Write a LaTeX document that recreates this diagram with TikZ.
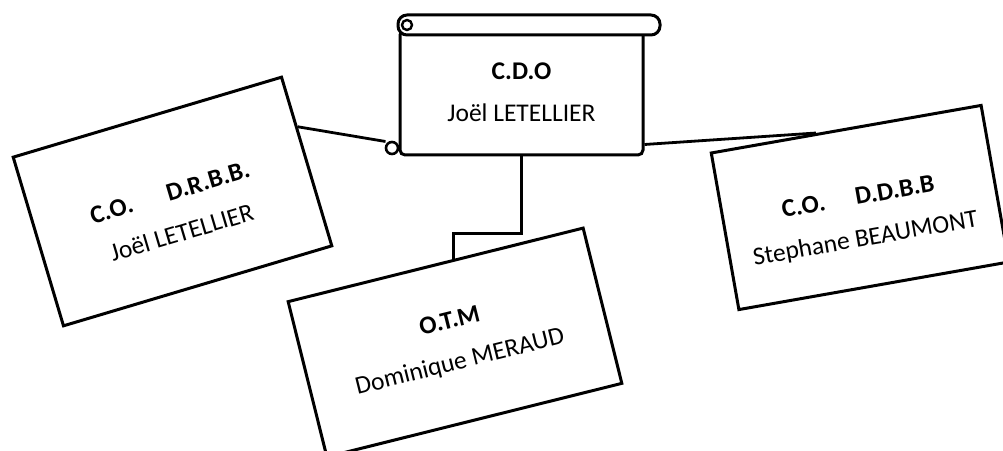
\documentclass[tikz,border=0pt]{standalone}
\usepackage{fontspec}
\setmainfont{Carlito}
\usetikzlibrary{calc}
\begin{document}
\begin{tikzpicture}[x=1pt, y=1pt,
    card/.style={draw, line width=3pt, align=center, fill=white, font=\fontsize{25.5}{42}\selectfont},
    link/.style={line width=2.8pt}]
    \useasboundingbox (0,0) rectangle (1003,450);

    % the scroll at the top
    \node[card, minimum width=243, minimum height=125, rounded corners=5] (cdo) at (521.5,357.5) {\textbf{C.D.O}\\Joël LETELLIER};
    \draw[line width=3pt, fill=white, rounded corners=9] (398,415) rectangle (660,435);
    \draw[line width=2.4pt] (407,425) circle (5);
    \draw[line width=2.6pt, fill=white] (392,302) circle (6);
    \coordinate (curl) at ($(cdo.south west)+(-13,15)$);

    % the three cards below (the rule pushes the text a little down)
    \node[card, minimum width=280, minimum height=176, rotate=16.6] (drbb) at (172.5,248.5) {\rule{0pt}{40pt}\textbf{C.O.}\hspace{1.4em}\textbf{D.R.B.B.}\\Joël LETELLIER};
    \node[card, minimum width=304, minimum height=160, rotate=14] (otm) at (455,107.5) {\textbf{O.T.M}\\Dominique MERAUD};
    \node[card, minimum width=274, minimum height=159, rotate=10] (ddbb) at (860,242.5) {\rule{0pt}{40pt}\textbf{C.O.}\hspace{1.2em}\textbf{D.D.B.B}\\Stephane BEAUMONT};

    \draw[link] ($(drbb.north east)!0.3!(drbb.south east)$) -- (curl);
    \draw[link] ($(cdo.south east)+(0,12)$) -- ($(ddbb.north west)!0.39!(ddbb.north east)$);
    \draw[link] (cdo.south) -- ++(0,-77) -| ($(otm.north west)!0.56!(otm.north east)$);
\end{tikzpicture}
\end{document}
